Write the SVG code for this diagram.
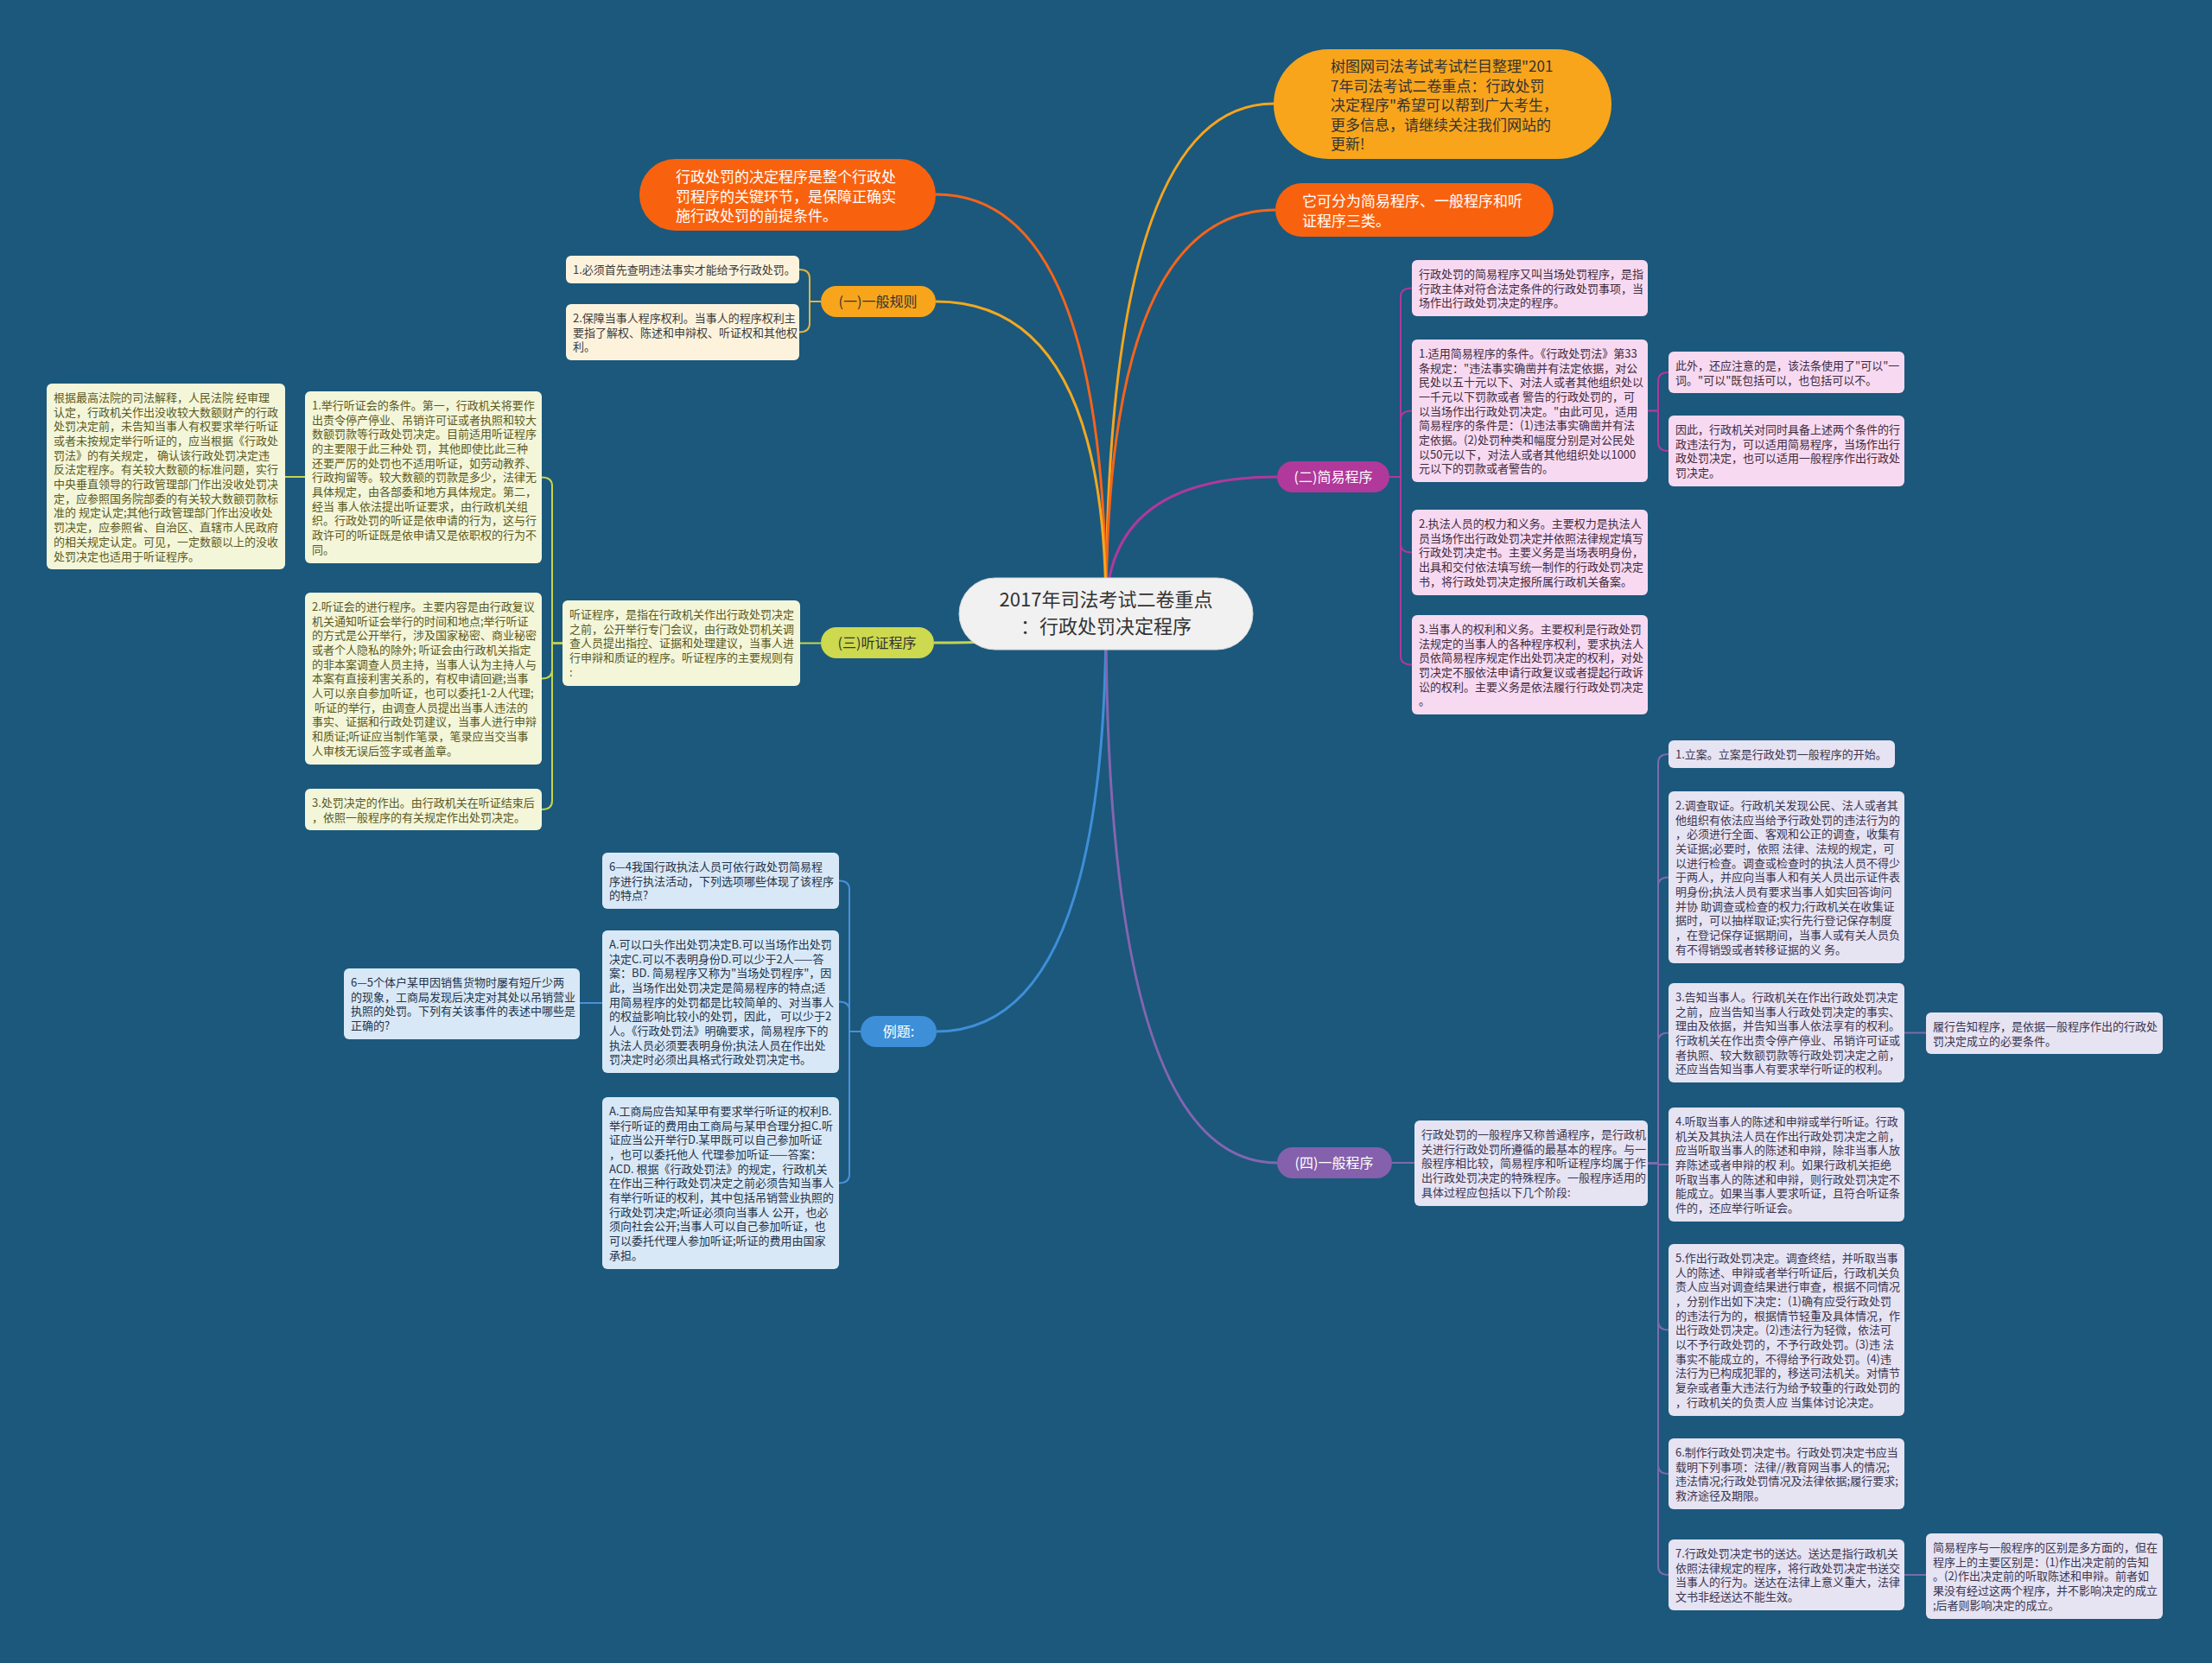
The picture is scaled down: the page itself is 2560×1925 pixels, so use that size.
<svg xmlns="http://www.w3.org/2000/svg" width="2560" height="1925" viewBox="0 0 2560 1925">
<style>
text{font-family:"Noto Sans CJK SC","Noto Sans",sans-serif}
.main{fill:none;stroke-width:3}
.sub{fill:none;stroke-width:2}
.t{font-size:13px}
.big{font-size:17px}
.lbl{font-size:16px;text-anchor:middle}
.b1{fill:#fdf3dd}.f1{fill:#3b3b3b}
.b3{fill:#f4f6da}.f3{fill:#5a5a22}
.be{fill:#d9e8f6}.fe{fill:#22334a}
.b2{fill:#f7daf1}.f2{fill:#3f2a3d}
.b4{fill:#e6e3f2}.f4{fill:#3a3550}
</style>
<rect x="0" y="0" width="2560" height="1925" fill="#1b587c"/>
<g id="connectors">
<path class="main" stroke="#f7a51f" d="M1280,710 Q1280,120 1474,120"/>
<path class="main" stroke="#f6641a" d="M1280,710 Q1280,243 1476,243"/>
<path class="main" stroke="#f6641a" d="M1280,710 Q1280,225 1083,225"/>
<path class="main" stroke="#f2a81f" d="M1280,710 Q1280,349 1083,349"/>
<path class="main" stroke="#b0399b" d="M1280,710 Q1280,552 1478,552"/>
<path class="main" stroke="#c5d44e" d="M1280,710 Q1280,744 1081,744"/>
<path class="main" stroke="#3f8fd8" d="M1280,710 Q1280,1194 1084,1194"/>
<path class="main" stroke="#8565b0" d="M1280,710 Q1280,1346 1478,1346"/>
<g stroke="#e3b342">
<path class="sub" d="M950,349 H937 V322 Q937,312 925,312"/>
<path class="sub" d="M950,349 H937 V374.5 Q937,384.5 925,384.5"/>
</g>
<g stroke="#c5d44e">
<path class="sub" d="M950,744.5 H926"/>
<path class="sub" d="M651,744.5 H639 V562.5 Q639,552.5 627,552.5"/>
<path class="sub" d="M651,744.5 H639 V775.5 Q639,785.5 627,785.5"/>
<path class="sub" d="M651,744.5 H639 V927 Q639,937 627,937"/>
<path class="sub" d="M330,552 H353"/>
</g>
<g stroke="#4a90d9">
<path class="sub" d="M996,1194 H983 V1029.5 Q983,1019.5 971,1019.5"/>
<path class="sub" d="M996,1194 H983 V1169.5 Q983,1159.5 971,1159.5"/>
<path class="sub" d="M996,1194 H983 V1359.5 Q983,1369.5 971,1369.5"/>
<path class="sub" d="M671,1161 H697"/>
</g>
<g stroke="#b0399b">
<path class="sub" d="M1608,552 H1621 V343.5 Q1621,333.5 1634,333.5"/>
<path class="sub" d="M1608,552 H1621 V485.5 Q1621,475.5 1634,475.5"/>
<path class="sub" d="M1608,552 H1621 V629.5 Q1621,639.5 1634,639.5"/>
<path class="sub" d="M1608,552 H1621 V759.5 Q1621,769.5 1634,769.5"/>
<path class="sub" d="M1907,475.5 H1919 V441 Q1919,431 1931,431"/>
<path class="sub" d="M1907,475.5 H1919 V512 Q1919,522 1931,522"/>
</g>
<g stroke="#7c6aae">
<path class="sub" d="M1611,1346 H1637"/>
<path class="sub" d="M1907,1346.5 H1919 V883 Q1919,873 1931,873"/>
<path class="sub" d="M1907,1346.5 H1919 V1025.5 Q1919,1015.5 1931,1015.5"/>
<path class="sub" d="M1907,1346.5 H1919 V1205.5 Q1919,1195.5 1931,1195.5"/>
<path class="sub" d="M1907,1346.5 H1919 V1348 H1931"/>
<path class="sub" d="M1907,1346.5 H1919 V1529.5 Q1919,1539.5 1931,1539.5"/>
<path class="sub" d="M1907,1346.5 H1919 V1696 Q1919,1706 1931,1706"/>
<path class="sub" d="M1907,1346.5 H1919 V1813 Q1919,1823 1931,1823"/>
<path class="sub" d="M2204,1195.5 H2229"/>
<path class="sub" d="M2204,1823 H2229"/>
</g>
</g>

<g id="center">
<rect x="1110" y="669" width="340" height="83" rx="41.5" fill="#f1f1f1" stroke="#d8d8d8" stroke-width="1"/>
<text x="1280" y="702" font-size="22" text-anchor="middle" fill="#333">2017年司法考试二卷重点</text>
<text x="1280" y="733" font-size="22" text-anchor="middle" fill="#333">：行政处罚决定程序</text>
</g>

<g id="intro-top">
<rect x="1474" y="57" width="391" height="127" rx="63.5" fill="#f8a51c"/>
<text class="big" fill="#333"><tspan x="1540" y="83">树图网司法考试考试栏目整理"201</tspan><tspan x="1540" dy="22.5">7年司法考试二卷重点：行政处罚</tspan><tspan x="1540" dy="22.5">决定程序"希望可以帮到广大考生，</tspan><tspan x="1540" dy="22.5">更多信息，请继续关注我们网站的</tspan><tspan x="1540" dy="22.5">更新!</tspan></text>
</g>
<g id="types">
<rect x="1476" y="212" width="322" height="62" rx="31" fill="#f8620e"/>
<text class="big" fill="#fff"><tspan x="1507" y="239">它可分为简易程序、一般程序和听</tspan><tspan x="1507" dy="22.5">证程序三类。</tspan></text>
</g>
<g id="intro-left">
<rect x="740" y="184" width="343" height="83" rx="41.5" fill="#f8620e"/>
<text class="big" fill="#fff"><tspan x="782" y="211">行政处罚的决定程序是整个行政处</tspan><tspan x="782" dy="22.5">罚程序的关键环节，是保障正确实</tspan><tspan x="782" dy="22.5">施行政处罚的前提条件。</tspan></text>
</g>

<g id="n1-general-rules">
<rect x="950" y="331" width="133" height="36" rx="18" fill="#f8a51c"/>
<text class="lbl" x="1016" y="355" fill="#333">(一)一般规则</text>
</g>
<g id="r1">
<rect class="b1" x="655" y="296" width="270" height="32" rx="6"/>
<text class="t f1"><tspan x="663" y="316.8">1.必须首先查明违法事实才能给予行政处罚。</tspan></text>
</g>
<g id="r2">
<rect class="b1" x="655" y="352" width="270" height="65" rx="6"/>
<text class="t f1"><tspan x="663" y="372.8">2.保障当事人程序权利。当事人的程序权利主</tspan><tspan x="663" dy="16.7">要指了解权、陈述和申辩权、听证权和其他权</tspan><tspan x="663" dy="16.7">利。</tspan></text>
</g>

<g id="n3-hearing">
<rect x="950" y="726" width="131" height="36" rx="18" fill="#cdd94e"/>
<text class="lbl" x="1015" y="750" fill="#333">(三)听证程序</text>
</g>
<g id="hearing-def">
<rect class="b3" x="651" y="695" width="275" height="99" rx="6"/>
<text class="t f3"><tspan x="659" y="715.8">听证程序，是指在行政机关作出行政处罚决定</tspan><tspan x="659" dy="16.7">之前，公开举行专门会议，由行政处罚机关调</tspan><tspan x="659" dy="16.7">查人员提出指控、证据和处理建议，当事人进</tspan><tspan x="659" dy="16.7">行申辩和质证的程序。听证程序的主要规则有</tspan><tspan x="659" dy="16.7">:</tspan></text>
</g>
<g id="h1">
<rect class="b3" x="353" y="453" width="274" height="199" rx="6"/>
<text class="t f3"><tspan x="361" y="473.8">1.举行听证会的条件。第一，行政机关将要作</tspan><tspan x="361" dy="16.7">出责令停产停业、吊销许可证或者执照和较大</tspan><tspan x="361" dy="16.7">数额罚款等行政处罚决定。目前适用听证程序</tspan><tspan x="361" dy="16.7">的主要限于此三种处 罚，其他即使比此三种</tspan><tspan x="361" dy="16.7">还要严厉的处罚也不适用听证，如劳动教养、</tspan><tspan x="361" dy="16.7">行政拘留等。较大数额的罚款是多少，法律无</tspan><tspan x="361" dy="16.7">具体规定，由各部委和地方具体规定。第二，</tspan><tspan x="361" dy="16.7">经当 事人依法提出听证要求，由行政机关组</tspan><tspan x="361" dy="16.7">织。行政处罚的听证是依申请的行为，这与行</tspan><tspan x="361" dy="16.7">政许可的听证既是依申请又是依职权的行为不</tspan><tspan x="361" dy="16.7">同。</tspan></text>
</g>
<g id="h1-note">
<rect class="b3" x="54" y="444" width="276" height="215" rx="6"/>
<text class="t f3"><tspan x="62" y="464.8">根据最高法院的司法解释，人民法院 经审理</tspan><tspan x="62" dy="16.7">认定，行政机关作出没收较大数额财产的行政</tspan><tspan x="62" dy="16.7">处罚决定前，未告知当事人有权要求举行听证</tspan><tspan x="62" dy="16.7">或者未按规定举行听证的，应当根据《行政处</tspan><tspan x="62" dy="16.7">罚法》的有关规定， 确认该行政处罚决定违</tspan><tspan x="62" dy="16.7">反法定程序。有关较大数额的标准问题，实行</tspan><tspan x="62" dy="16.7">中央垂直领导的行政管理部门作出没收处罚决</tspan><tspan x="62" dy="16.7">定，应参照国务院部委的有关较大数额罚款标</tspan><tspan x="62" dy="16.7">准的 规定认定;其他行政管理部门作出没收处</tspan><tspan x="62" dy="16.7">罚决定，应参照省、自治区、直辖市人民政府</tspan><tspan x="62" dy="16.7">的相关规定认定。可见，一定数额以上的没收</tspan><tspan x="62" dy="16.7">处罚决定也适用于听证程序。</tspan></text>
</g>
<g id="h2">
<rect class="b3" x="353" y="686" width="274" height="199" rx="6"/>
<text class="t f3"><tspan x="361" y="706.8">2.听证会的进行程序。主要内容是由行政复议</tspan><tspan x="361" dy="16.7">机关通知听证会举行的时间和地点;举行听证</tspan><tspan x="361" dy="16.7">的方式是公开举行，涉及国家秘密、商业秘密</tspan><tspan x="361" dy="16.7">或者个人隐私的除外; 听证会由行政机关指定</tspan><tspan x="361" dy="16.7">的非本案调查人员主持，当事人认为主持人与</tspan><tspan x="361" dy="16.7">本案有直接利害关系的，有权申请回避;当事</tspan><tspan x="361" dy="16.7">人可以亲自参加听证，也可以委托1-2人代理;</tspan><tspan x="361" dy="16.7"> 听证的举行，由调查人员提出当事人违法的</tspan><tspan x="361" dy="16.7">事实、证据和行政处罚建议，当事人进行申辩</tspan><tspan x="361" dy="16.7">和质证;听证应当制作笔录，笔录应当交当事</tspan><tspan x="361" dy="16.7">人审核无误后签字或者盖章。</tspan></text>
</g>
<g id="h3">
<rect class="b3" x="353" y="913" width="274" height="48" rx="6"/>
<text class="t f3"><tspan x="361" y="933.8">3.处罚决定的作出。由行政机关在听证结束后</tspan><tspan x="361" dy="16.7">，依照一般程序的有关规定作出处罚决定。</tspan></text>
</g>

<g id="examples">
<rect x="996" y="1176" width="88" height="36" rx="18" fill="#3d8fd8"/>
<text class="lbl" x="1040" y="1200" fill="#fff">例题:</text>
</g>
<g id="ex-a">
<rect class="be" x="697" y="987" width="274" height="65" rx="6"/>
<text class="t fe"><tspan x="705" y="1007.8">6—4我国行政执法人员可依行政处罚简易程</tspan><tspan x="705" dy="16.7">序进行执法活动，下列选项哪些体现了该程序</tspan><tspan x="705" dy="16.7">的特点?</tspan></text>
</g>
<g id="ex-b">
<rect class="be" x="697" y="1077" width="274" height="165" rx="6"/>
<text class="t fe"><tspan x="705" y="1097.8">A.可以口头作出处罚决定B.可以当场作出处罚</tspan><tspan x="705" dy="16.7">决定C.可以不表明身份D.可以少于2人——答</tspan><tspan x="705" dy="16.7">案：BD. 简易程序又称为"当场处罚程序"，因</tspan><tspan x="705" dy="16.7">此，当场作出处罚决定是简易程序的特点;适</tspan><tspan x="705" dy="16.7">用简易程序的处罚都是比较简单的、对当事人</tspan><tspan x="705" dy="16.7">的权益影响比较小的处罚，因此， 可以少于2</tspan><tspan x="705" dy="16.7">人。《行政处罚法》明确要求，简易程序下的</tspan><tspan x="705" dy="16.7">执法人员必须要表明身份;执法人员在作出处</tspan><tspan x="705" dy="16.7">罚决定时必须出具格式行政处罚决定书。</tspan></text>
</g>
<g id="ex-d">
<rect class="be" x="398" y="1121" width="273" height="82" rx="6"/>
<text class="t fe"><tspan x="406" y="1141.8">6—5个体户某甲因销售货物时屡有短斤少两</tspan><tspan x="406" dy="16.7">的现象，工商局发现后决定对其处以吊销营业</tspan><tspan x="406" dy="16.7">执照的处罚。下列有关该事件的表述中哪些是</tspan><tspan x="406" dy="16.7">正确的?</tspan></text>
</g>
<g id="ex-c">
<rect class="be" x="697" y="1270" width="274" height="199" rx="6"/>
<text class="t fe"><tspan x="705" y="1290.8">A.工商局应告知某甲有要求举行听证的权利B.</tspan><tspan x="705" dy="16.7">举行听证的费用由工商局与某甲合理分担C.听</tspan><tspan x="705" dy="16.7">证应当公开举行D.某甲既可以自己参加听证</tspan><tspan x="705" dy="16.7">，也可以委托他人 代理参加听证——答案：</tspan><tspan x="705" dy="16.7">ACD. 根据《行政处罚法》的规定，行政机关</tspan><tspan x="705" dy="16.7">在作出三种行政处罚决定之前必须告知当事人</tspan><tspan x="705" dy="16.7">有举行听证的权利，其中包括吊销营业执照的</tspan><tspan x="705" dy="16.7">行政处罚决定;听证必须向当事人 公开，也必</tspan><tspan x="705" dy="16.7">须向社会公开;当事人可以自己参加听证，也</tspan><tspan x="705" dy="16.7">可以委托代理人参加听证;听证的费用由国家</tspan><tspan x="705" dy="16.7">承担。</tspan></text>
</g>

<g id="n2-simple">
<rect x="1478" y="534" width="130" height="36" rx="18" fill="#b0399b"/>
<text class="lbl" x="1543" y="558" fill="#fff">(二)简易程序</text>
</g>
<g id="s0">
<rect class="b2" x="1634" y="301" width="273" height="65" rx="6"/>
<text class="t f2"><tspan x="1642" y="321.8">行政处罚的简易程序又叫当场处罚程序，是指</tspan><tspan x="1642" dy="16.7">行政主体对符合法定条件的行政处罚事项，当</tspan><tspan x="1642" dy="16.7">场作出行政处罚决定的程序。</tspan></text>
</g>
<g id="s1">
<rect class="b2" x="1634" y="393" width="273" height="165" rx="6"/>
<text class="t f2"><tspan x="1642" y="413.8">1.适用简易程序的条件。《行政处罚法》第33</tspan><tspan x="1642" dy="16.7">条规定："违法事实确凿并有法定依据，对公</tspan><tspan x="1642" dy="16.7">民处以五十元以下、对法人或者其他组织处以</tspan><tspan x="1642" dy="16.7">一千元以下罚款或者 警告的行政处罚的，可</tspan><tspan x="1642" dy="16.7">以当场作出行政处罚决定。"由此可见，适用</tspan><tspan x="1642" dy="16.7">简易程序的条件是：(1)违法事实确凿并有法</tspan><tspan x="1642" dy="16.7">定依据。(2)处罚种类和幅度分别是对公民处</tspan><tspan x="1642" dy="16.7">以50元以下，对法人或者其他组织处以1000</tspan><tspan x="1642" dy="16.7">元以下的罚款或者警告的。</tspan></text>
</g>
<g id="s1-n1">
<rect class="b2" x="1931" y="407" width="273" height="48" rx="6"/>
<text class="t f2"><tspan x="1939" y="427.8">此外，还应注意的是，该法条使用了"可以"一</tspan><tspan x="1939" dy="16.7">词。"可以"既包括可以，也包括可以不。</tspan></text>
</g>
<g id="s1-n2">
<rect class="b2" x="1931" y="481" width="273" height="82" rx="6"/>
<text class="t f2"><tspan x="1939" y="501.8">因此，行政机关对同时具备上述两个条件的行</tspan><tspan x="1939" dy="16.7">政违法行为，可以适用简易程序，当场作出行</tspan><tspan x="1939" dy="16.7">政处罚决定，也可以适用一般程序作出行政处</tspan><tspan x="1939" dy="16.7">罚决定。</tspan></text>
</g>
<g id="s2">
<rect class="b2" x="1634" y="590" width="273" height="99" rx="6"/>
<text class="t f2"><tspan x="1642" y="610.8">2.执法人员的权力和义务。主要权力是执法人</tspan><tspan x="1642" dy="16.7">员当场作出行政处罚决定并依照法律规定填写</tspan><tspan x="1642" dy="16.7">行政处罚决定书。主要义务是当场表明身份，</tspan><tspan x="1642" dy="16.7">出具和交付依法填写统一制作的行政处罚决定</tspan><tspan x="1642" dy="16.7">书，将行政处罚决定报所属行政机关备案。</tspan></text>
</g>
<g id="s3">
<rect class="b2" x="1634" y="712" width="273" height="115" rx="6"/>
<text class="t f2"><tspan x="1642" y="732.8">3.当事人的权利和义务。主要权利是行政处罚</tspan><tspan x="1642" dy="16.7">法规定的当事人的各种程序权利，要求执法人</tspan><tspan x="1642" dy="16.7">员依简易程序规定作出处罚决定的权利，对处</tspan><tspan x="1642" dy="16.7">罚决定不服依法申请行政复议或者提起行政诉</tspan><tspan x="1642" dy="16.7">讼的权利。主要义务是依法履行行政处罚决定</tspan><tspan x="1642" dy="16.7">。</tspan></text>
</g>

<g id="n4-general">
<rect x="1478" y="1328" width="133" height="36" rx="18" fill="#8460ad"/>
<text class="lbl" x="1544" y="1352" fill="#fff">(四)一般程序</text>
</g>
<g id="p-def">
<rect class="b4" x="1637" y="1297" width="270" height="99" rx="6"/>
<text class="t f4"><tspan x="1645" y="1317.8">行政处罚的一般程序又称普通程序，是行政机</tspan><tspan x="1645" dy="16.7">关进行行政处罚所遵循的最基本的程序。与一</tspan><tspan x="1645" dy="16.7">般程序相比较，简易程序和听证程序均属于作</tspan><tspan x="1645" dy="16.7">出行政处罚决定的特殊程序。一般程序适用的</tspan><tspan x="1645" dy="16.7">具体过程应包括以下几个阶段:</tspan></text>
</g>
<g id="g1">
<rect class="b4" x="1931" y="857" width="262" height="32" rx="6"/>
<text class="t f4"><tspan x="1939" y="877.8">1.立案。立案是行政处罚一般程序的开始。</tspan></text>
</g>
<g id="g2">
<rect class="b4" x="1931" y="916" width="273" height="199" rx="6"/>
<text class="t f4"><tspan x="1939" y="936.8">2.调查取证。行政机关发现公民、法人或者其</tspan><tspan x="1939" dy="16.7">他组织有依法应当给予行政处罚的违法行为的</tspan><tspan x="1939" dy="16.7">，必须进行全面、客观和公正的调查，收集有</tspan><tspan x="1939" dy="16.7">关证据;必要时，依照 法律、法规的规定，可</tspan><tspan x="1939" dy="16.7">以进行检查。调查或检查时的执法人员不得少</tspan><tspan x="1939" dy="16.7">于两人，并应向当事人和有关人员出示证件表</tspan><tspan x="1939" dy="16.7">明身份;执法人员有要求当事人如实回答询问</tspan><tspan x="1939" dy="16.7">并协 助调查或检查的权力;行政机关在收集证</tspan><tspan x="1939" dy="16.7">据时，可以抽样取证;实行先行登记保存制度</tspan><tspan x="1939" dy="16.7">，在登记保存证据期间，当事人或有关人员负</tspan><tspan x="1939" dy="16.7">有不得销毁或者转移证据的义 务。</tspan></text>
</g>
<g id="g3">
<rect class="b4" x="1931" y="1138" width="273" height="115" rx="6"/>
<text class="t f4"><tspan x="1939" y="1158.8">3.告知当事人。行政机关在作出行政处罚决定</tspan><tspan x="1939" dy="16.7">之前，应当告知当事人行政处罚决定的事实、</tspan><tspan x="1939" dy="16.7">理由及依据，并告知当事人依法享有的权利。</tspan><tspan x="1939" dy="16.7">行政机关在作出责令停产停业、吊销许可证或</tspan><tspan x="1939" dy="16.7">者执照、较大数额罚款等行政处罚决定之前，</tspan><tspan x="1939" dy="16.7">还应当告知当事人有要求举行听证的权利。</tspan></text>
</g>
<g id="g3-note">
<rect class="b4" x="2229" y="1172" width="274" height="48" rx="6"/>
<text class="t f4"><tspan x="2237" y="1192.8">履行告知程序，是依据一般程序作出的行政处</tspan><tspan x="2237" dy="16.7">罚决定成立的必要条件。</tspan></text>
</g>
<g id="g4">
<rect class="b4" x="1931" y="1282" width="273" height="132" rx="6"/>
<text class="t f4"><tspan x="1939" y="1302.8">4.听取当事人的陈述和申辩或举行听证。行政</tspan><tspan x="1939" dy="16.7">机关及其执法人员在作出行政处罚决定之前，</tspan><tspan x="1939" dy="16.7">应当听取当事人的陈述和申辩，除非当事人放</tspan><tspan x="1939" dy="16.7">弃陈述或者申辩的权 利。如果行政机关拒绝</tspan><tspan x="1939" dy="16.7">听取当事人的陈述和申辩，则行政处罚决定不</tspan><tspan x="1939" dy="16.7">能成立。如果当事人要求听证，且符合听证条</tspan><tspan x="1939" dy="16.7">件的，还应举行听证会。</tspan></text>
</g>
<g id="g5">
<rect class="b4" x="1931" y="1440" width="273" height="199" rx="6"/>
<text class="t f4"><tspan x="1939" y="1460.8">5.作出行政处罚决定。调查终结，并听取当事</tspan><tspan x="1939" dy="16.7">人的陈述、申辩或者举行听证后，行政机关负</tspan><tspan x="1939" dy="16.7">责人应当对调查结果进行审查，根据不同情况</tspan><tspan x="1939" dy="16.7">，分别作出如下决定：(1)确有应受行政处罚</tspan><tspan x="1939" dy="16.7">的违法行为的，根据情节轻重及具体情况，作</tspan><tspan x="1939" dy="16.7">出行政处罚决定。(2)违法行为轻微，依法可</tspan><tspan x="1939" dy="16.7">以不予行政处罚的，不予行政处罚。(3)违 法</tspan><tspan x="1939" dy="16.7">事实不能成立的，不得给予行政处罚。(4)违</tspan><tspan x="1939" dy="16.7">法行为已构成犯罪的，移送司法机关。对情节</tspan><tspan x="1939" dy="16.7">复杂或者重大违法行为给予较重的行政处罚的</tspan><tspan x="1939" dy="16.7">，行政机关的负责人应 当集体讨论决定。</tspan></text>
</g>
<g id="g6">
<rect class="b4" x="1931" y="1665" width="273" height="82" rx="6"/>
<text class="t f4"><tspan x="1939" y="1685.8">6.制作行政处罚决定书。行政处罚决定书应当</tspan><tspan x="1939" dy="16.7">载明下列事项：法律//教育网当事人的情况;</tspan><tspan x="1939" dy="16.7">违法情况;行政处罚情况及法律依据;履行要求;</tspan><tspan x="1939" dy="16.7">救济途径及期限。</tspan></text>
</g>
<g id="g7">
<rect class="b4" x="1931" y="1782" width="273" height="82" rx="6"/>
<text class="t f4"><tspan x="1939" y="1802.8">7.行政处罚决定书的送达。送达是指行政机关</tspan><tspan x="1939" dy="16.7">依照法律规定的程序，将行政处罚决定书送交</tspan><tspan x="1939" dy="16.7">当事人的行为。送达在法律上意义重大，法律</tspan><tspan x="1939" dy="16.7">文书非经送达不能生效。</tspan></text>
</g>
<g id="g7-note">
<rect class="b4" x="2229" y="1775" width="274" height="99" rx="6"/>
<text class="t f4"><tspan x="2237" y="1795.8">简易程序与一般程序的区别是多方面的，但在</tspan><tspan x="2237" dy="16.7">程序上的主要区别是：(1)作出决定前的告知</tspan><tspan x="2237" dy="16.7">。(2)作出决定前的听取陈述和申辩。前者如</tspan><tspan x="2237" dy="16.7">果没有经过这两个程序，并不影响决定的成立</tspan><tspan x="2237" dy="16.7">;后者则影响决定的成立。</tspan></text>
</g>
</svg>
